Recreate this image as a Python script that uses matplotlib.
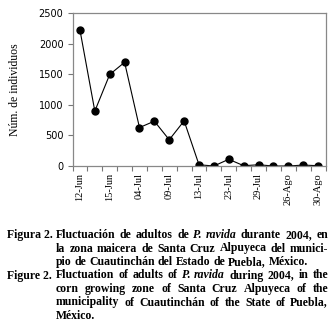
import numpy as np
import matplotlib
matplotlib.use("Agg")
import matplotlib.pyplot as plt

# sampling dates (2004) and adult counts
dates = ['12-Jun', '', '15-Jun', '', '04-Jul', '', '09-Jul', '', '13-Jul', '',
         '23-Jul', '', '29-Jul', '', '26-Ago', '', '30-Ago']
adults = [2230, 900, 1500, 1700, 630, 735, 430, 740, 20, 0, 110, 5, 20, 0, 0, 15, 5]
yticks = [0, 500, 1000, 1500, 2000, 2500]

caption = [
    ("Figura 2.", [("Fluctuación", 0), ("de", 0), ("adultos", 0), ("de", 0), ("P.", 1), ("ravida", 1),
                   ("durante", 0), ("2004,", 0), ("en", 0)], True),
    (None, [(w, 0) for w in "la zona maicera de Santa Cruz Alpuyeca del munici-".split()], True),
    (None, [(w, 0) for w in "pio de Cuautinchán del Estado de Puebla, México.".split()], False),
    ("Figure 2.", [("Fluctuation", 0), ("of", 0), ("adults", 0), ("of", 0), ("P.", 1), ("ravida", 1),
                   ("during", 0), ("2004,", 0), ("in", 0), ("the", 0)], True),
    (None, [(w, 0) for w in "corn growing zone of Santa Cruz Alpuyeca of the".split()], True),
    (None, [(w, 0) for w in "municipality of Cuautinchán of the State of Puebla,".split()], True),
    (None, [(w, 0) for w in "México.".split()], False),
]

W, H = 336, 326
fig = plt.figure(figsize=(W / 100, H / 100), dpi=100)
ax = fig.add_axes([72.5 / W, 1 - 166 / H, 253 / W, 152.5 / H])

x = np.arange(len(adults))
ax.plot(x, adults, color='black', lw=0.8, marker='o', ms=5, mfc='black', mec='black')

ax.set_xlim(-0.5, len(adults) - 0.5)
ax.set_ylim(0, 2500)
ax.set_yticks(yticks)
ax.set_yticklabels([str(v) for v in yticks], fontsize=7, family='DejaVu Sans')
ax.set_xticks(x)
ax.set_xticklabels(dates, rotation=90, fontsize=7.5, family='Liberation Serif')
ax.set_xticks(np.arange(len(adults) + 1) - 0.5, minor=True)
ax.tick_params(axis='x', which='major', length=0, pad=5)
ax.tick_params(axis='x', which='minor', length=3.5, width=0.8, color='#777777', direction='out')
ax.tick_params(axis='y', length=3.5, width=0.8, color='#777777', direction='out', pad=3)
for s in ax.spines.values():
    s.set_color('#888888')
    s.set_linewidth(0.9)
ax.set_ylabel('Núm. de individuos', family='Liberation Serif', fontsize=8.5, labelpad=13)

# caption, justified like the printed figure
renderer = fig.canvas.get_renderer()
fs = 8.5
y = 235
for head, words, justify in caption:
    if head:
        fig.text(7 / W, 1 - y / H, head, fontsize=fs, family='Liberation Serif', weight='bold', va='center')
    texts = []
    for w, it in words:
        t = fig.text(0, 1 - y / H, w, fontsize=fs, family='Liberation Serif', weight='bold',
                     style='italic' if it else 'normal', va='center')
        texts.append(t)
    widths = [t.get_window_extent(renderer).width for t in texts]
    x0, x1 = 56, 328
    if justify and len(texts) > 1:
        gap = (x1 - x0 - sum(widths)) / (len(texts) - 1)
    else:
        gap = fs * 0.25 * 100 / 72
    pos = x0
    for t, wd in zip(texts, widths):
        t.set_x(pos / W)
        pos += wd + gap
    y += 13.5

fig.savefig('out.png', dpi=100)
